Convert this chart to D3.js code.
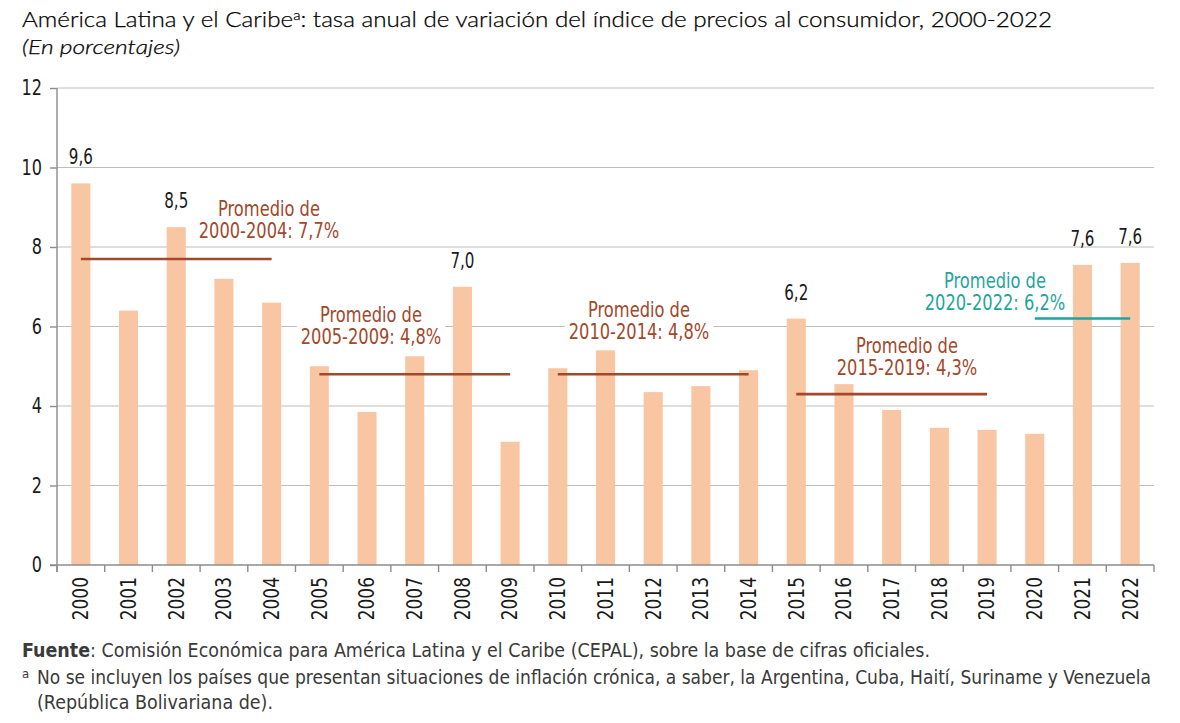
<!DOCTYPE html>
<html>
<head>
<meta charset="utf-8">
<script src="https://cdn.jsdelivr.net/npm/d3@7"></script>
<style>
  html, body { margin: 0; padding: 0; background: #fff; }
  svg { display: block; }
</style>
</head>
<body>
<svg id="chart" width="1180" height="723"></svg>
<script>
// ---- Data ----
const years = ["2000","2001","2002","2003","2004","2005","2006","2007","2008","2009","2010","2011",
               "2012","2013","2014","2015","2016","2017","2018","2019","2020","2021","2022"];
const inflation = [9.6, 6.4, 8.5, 7.2, 6.6, 5.0, 3.85, 5.25, 7.0, 3.1, 4.95, 5.4,
                   4.35, 4.5, 4.9, 6.2, 4.55, 3.9, 3.45, 3.4, 3.3, 7.55, 7.6];
const labeledYears = ["2000","2002","2008","2015","2021","2022"];
const labeledText = ["9,6","8,5","7,0","6,2","7,6","7,6"];
const yTicks = [0, 2, 4, 6, 8, 10, 12];
const avgFrom = ["2000","2005","2010","2015","2020"];
const avgTo   = ["2004","2009","2014","2019","2022"];
const avgValue = [7.7, 4.8, 4.8, 4.3, 6.2];
const avgLine1 = ["Promedio de","Promedio de","Promedio de","Promedio de","Promedio de"];
const avgLine2 = ["2000-2004: 7,7%","2005-2009: 4,8%","2010-2014: 4,8%","2015-2019: 4,3%","2020-2022: 6,2%"];

// ---- Layout / style ----
const avgColor = ["#A2482B","#A2482B","#A2482B","#A2482B","#1FA59C"];
const avgLabelPos = [ {x:269, y:216}, {x:371, y:322}, {x:639, y:317}, {x:907, y:353}, {x:995, y:288} ];
const narrow = "'DejaVu Sans Condensed', 'Liberation Sans Narrow', sans-serif";
const mLeft = 57, mRight = 1154, mTop = 88, mBottom = 565;

const svg = d3.select("#chart");

// compress glyphs horizontally to imitate a narrow typeface
function squeeze(sel, k) {
  sel.each(function () {
    const len = this.getComputedTextLength();
    d3.select(this).attr("textLength", len * k).attr("lengthAdjust", "spacingAndGlyphs");
  });
}

const x = d3.scaleBand().domain(years).range([mLeft, mRight]).paddingInner(0.6).paddingOuter(0.3);
const y = d3.scaleLinear().domain([0, 12]).range([mBottom, mTop]);

// Title
const title = svg.append("text").attr("x", 22).attr("y", 27)
  .attr("font-family", "Lato, 'Noto Sans', sans-serif").attr("font-weight", 300)
  .attr("font-size", 21).attr("fill", "#000").attr("stroke", "#000").attr("stroke-width", 0.25)
  .attr("textLength", 1030).attr("lengthAdjust", "spacingAndGlyphs");
title.append("tspan").text("América Latina y el Caribe");
title.append("tspan").attr("font-size", 13).attr("dy", -7).text("a");
title.append("tspan").attr("dy", 7).text(": tasa anual de variación del índice de precios al consumidor, 2000-2022");

svg.append("text").attr("x", 22).attr("y", 54)
  .attr("font-family", "Lato, 'Noto Sans', sans-serif").attr("font-weight", 300)
  .attr("font-size", 20).attr("font-style", "italic")
  .attr("fill", "#000").attr("stroke", "#000").attr("stroke-width", 0.25)
  .attr("textLength", 158).attr("lengthAdjust", "spacingAndGlyphs")
  .text("(En porcentajes)");

// Gridlines
svg.append("g").selectAll("line").data(yTicks.filter(d => d > 0)).join("line")
  .attr("x1", mLeft).attr("x2", mRight)
  .attr("y1", d => y(d)).attr("y2", d => y(d))
  .attr("stroke", "#BDBDBD").attr("stroke-width", 1.2);

// Average annotation labels (background layer + text layer)
const annBg = svg.append("g");
const bars = svg.append("g");
const annTx = svg.append("g");
avgValue.forEach((v, i) => {
  const p = avgLabelPos[i];
  const t1 = annTx.append("text").attr("x", p.x).attr("y", p.y).attr("text-anchor", "middle")
    .attr("font-family", narrow).attr("font-size", 21).attr("fill", avgColor[i]).text(avgLine1[i]);
  const t2 = annTx.append("text").attr("x", p.x).attr("y", p.y + 22).attr("text-anchor", "middle")
    .attr("font-family", narrow).attr("font-size", 21).attr("fill", avgColor[i]).text(avgLine2[i]);
  squeeze(t1, 0.86); squeeze(t2, 0.86);
  const b1 = t1.node().getBBox(), b2 = t2.node().getBBox();
  const x0 = Math.min(b1.x, b2.x) - 4, x1 = Math.max(b1.x + b1.width, b2.x + b2.width) + 4;
  annBg.append("rect").attr("x", x0).attr("y", b1.y).attr("width", x1 - x0)
    .attr("height", b2.y + b2.height - b1.y).attr("fill", "#fff");
});

// Bars
bars.selectAll("rect").data(years).join("rect")
  .attr("x", d => x(d)).attr("width", x.bandwidth())
  .attr("y", (d, i) => y(inflation[i]))
  .attr("height", (d, i) => y(0) - y(inflation[i]))
  .attr("fill", "#F9C6A4");

// Average lines
svg.append("g").selectAll("line").data(avgValue).join("line")
  .attr("x1", (d, i) => x(avgFrom[i]) + x.bandwidth() / 2)
  .attr("x2", (d, i) => x(avgTo[i]) + x.bandwidth() / 2)
  .attr("y1", d => y(d)).attr("y2", d => y(d))
  .attr("stroke", (d, i) => avgColor[i]).attr("stroke-width", 2.6);

// Value labels
const vl = svg.append("g").selectAll("text").data(labeledYears).join("text")
  .attr("x", d => x(d) + x.bandwidth() / 2)
  .attr("y", d => y(inflation[years.indexOf(d)]) - 19)
  .attr("text-anchor", "middle").attr("font-family", narrow).attr("font-size", 21)
  .attr("fill", "#1a1a1a").text((d, i) => labeledText[i]);
squeeze(vl, 0.8);

// Y axis
const yAxis = svg.append("g").attr("transform", `translate(${mLeft},0)`)
  .call(d3.axisLeft(y).tickValues(yTicks).tickSize(7).tickPadding(8).tickFormat(d3.format("d")));
yAxis.select(".domain").remove();
yAxis.append("line").attr("x1", 0).attr("x2", 0).attr("y1", mTop).attr("y2", mBottom + 7);
yAxis.selectAll("line").attr("stroke", "#8C8C8C").attr("stroke-width", 1.4);
yAxis.selectAll("text").attr("font-family", narrow).attr("font-size", 21).attr("fill", "#1a1a1a");
squeeze(yAxis.selectAll("text"), 0.85);

// X axis
const xAxis = svg.append("g").attr("transform", `translate(0,${mBottom})`)
  .call(d3.axisBottom(x).tickSize(0).tickPadding(0));
xAxis.select(".domain").remove();
xAxis.append("line").attr("x1", mLeft - 7).attr("x2", mRight).attr("y1", 0).attr("y2", 0)
  .attr("stroke", "#8C8C8C").attr("stroke-width", 1.4);
xAxis.selectAll(".tick text")
  .attr("transform", "rotate(-90)").attr("text-anchor", "end")
  .attr("x", -12).attr("y", 0).attr("dy", "0.35em")
  .attr("font-family", narrow).attr("font-size", 21).attr("fill", "#1a1a1a");
squeeze(xAxis.selectAll(".tick text"), 0.9);
xAxis.append("g").selectAll("line").data(d3.range(years.length + 1)).join("line")
  .attr("x1", i => x.range()[0] + i * x.step()).attr("x2", i => x.range()[0] + i * x.step())
  .attr("y1", 0).attr("y2", 7).attr("stroke", "#8C8C8C").attr("stroke-width", 1.4);

// Footnotes
const foot = svg.append("g").attr("font-family", narrow).attr("font-size", 19).attr("fill", "#3a3a3a");
const f1 = foot.append("text").attr("x", 22).attr("y", 657)
  .attr("textLength", 908).attr("lengthAdjust", "spacingAndGlyphs");
f1.append("tspan").attr("font-weight", "bold").text("Fuente");
f1.append("tspan").text(":  Comisión Económica para América Latina y el Caribe (CEPAL), sobre la base de cifras oficiales.");
foot.append("text").attr("x", 22).attr("y", 678).attr("font-size", 13).text("a");
foot.append("text").attr("x", 37).attr("y", 684)
  .attr("textLength", 1114).attr("lengthAdjust", "spacingAndGlyphs")
  .text("No se incluyen los países que presentan situaciones de inflación crónica, a saber, la Argentina, Cuba, Haití, Suriname y Venezuela");
foot.append("text").attr("x", 37).attr("y", 709)
  .attr("textLength", 236).attr("lengthAdjust", "spacingAndGlyphs")
  .text("(República Bolivariana de).");
</script>
</body>
</html>
